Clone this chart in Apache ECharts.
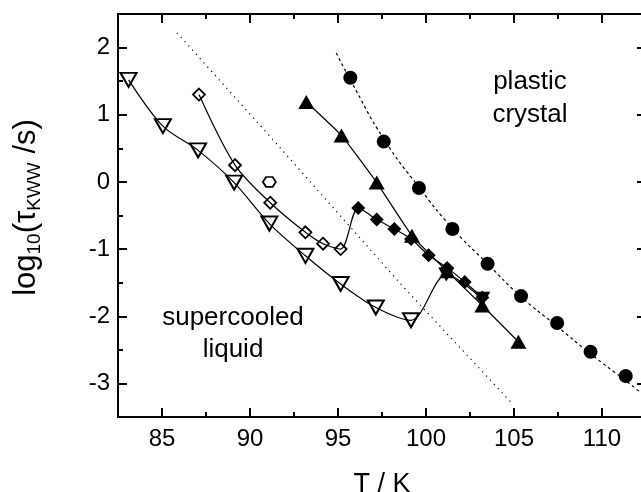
<!DOCTYPE html>
<html>
<head>
<meta charset="utf-8">
<script src="https://cdn.jsdelivr.net/npm/echarts@6/dist/echarts.min.js"></script>
<style>
html,body{margin:0;padding:0;background:#fff;}
#c{width:641px;height:492px;}
</style>
</head>
<body>
<div id="c"></div>
<script>
// ---- data ----
// open down-triangles (supercooled liquid)
const tDownOpen = [83.1, 85.05, 87.05, 89.1, 91.1, 93.15, 95.15, 97.15, 99.15];
const yDownOpen = [1.52, 0.83, 0.47, -0.01, -0.62, -1.10, -1.52, -1.87, -2.06];
// filled down-triangles (plastic crystal)
const tDownFilled = [101.15, 103.2];
const yDownFilled = [-1.38, -1.74];
// open diamonds
const tDiaOpen = [87.1, 89.15, 91.15, 93.15, 94.15, 95.15];
const yDiaOpen = [1.30, 0.25, -0.31, -0.75, -0.92, -1.00];
// filled diamonds
const tDiaFilled = [96.15, 97.2, 98.2, 99.15, 100.15, 101.2, 102.2, 103.2];
const yDiaFilled = [-0.39, -0.56, -0.70, -0.85, -1.09, -1.28, -1.49, -1.72];
// open hexagon
const tHex = [91.1];
const yHex = [0.0];
// filled up-triangles
const tTriFilled = [93.2, 95.2, 97.2, 99.2, 101.2, 103.2, 105.25];
const yTriFilled = [1.19, 0.69, -0.01, -0.80, -1.33, -1.84, -2.38];
// filled circles
const tCirc = [95.7, 97.6, 99.6, 101.5, 103.5, 105.4, 107.45, 109.35, 111.35];
const yCirc = [1.55, 0.60, -0.09, -0.70, -1.22, -1.70, -2.10, -2.53, -2.89];
// dashed fit through circles
const tFitCirc = [94.9, 95.7, 97.6, 99.6, 101.5, 103.5, 105.4, 107.45, 109.35, 111.35, 112.5];
const yFitCirc = [1.92, 1.52, 0.64, -0.08, -0.69, -1.22, -1.71, -2.15, -2.56, -2.96, -3.20];
// dotted fit line
const tFitDot = [85.85, 91.3, 98.7, 104.9];
const yFitDot = [2.22, 0.63, -1.56, -3.30];
// axis ticks
const xMajor = [85, 90, 95, 100, 105, 110];
const xMinor = [82.5, 87.5, 92.5, 97.5, 102.5, 107.5, 112.5];
const yMajor = [-3, -2, -1, 0, 1, 2];
const yMinor = [-3.5, -2.5, -1.5, -0.5, 0.5, 1.5, 2.5];
const xLabel = 'T / K';
const annotLiquid = 'supercooled\nliquid';
const annotCrystal = 'plastic\ncrystal';

const zip = (a, b) => a.map((v, i) => [v, b[i]]);
const FONT = '"Liberation Sans", Arial, Helvetica, sans-serif';
const hexPath = 'path://M-1,0L-0.5,-0.866L0.5,-0.866L1,0L0.5,0.866L-0.5,0.866Z';

const chart = echarts.init(document.getElementById('c'), null, {renderer: 'canvas'});

function xAx(position, values, len, showLine, showLabel) {
  return {
    type: 'value', min: 82.5, max: 112.5, position: position,
    axisLine: {show: showLine, onZero: false, lineStyle: {color: '#000', width: 2}},
    axisTick: {show: true, inside: true, length: len, customValues: values, lineStyle: {color: '#000', width: 2}},
    axisLabel: showLabel ? {show: true, customValues: values, fontSize: 24, color: '#000', fontFamily: FONT, margin: 10} : {show: false},
    splitLine: {show: false}
  };
}
function yAx(position, values, len, showLine, showLabel) {
  return {
    type: 'value', min: -3.5, max: 2.5, position: position,
    axisLine: {show: showLine, onZero: false, lineStyle: {color: '#000', width: 2}},
    axisTick: {show: true, inside: true, length: len, customValues: values, lineStyle: {color: '#000', width: 2}},
    axisLabel: showLabel ? {show: true, customValues: values, fontSize: 24, color: '#000', fontFamily: FONT, margin: 8} : {show: false},
    splitLine: {show: false}
  };
}

const xA0 = xAx('bottom', xMajor, 9, true, true);
xA0.name = xLabel;
xA0.nameLocation = 'middle';
xA0.nameGap = 54;
xA0.nameTextStyle = {fontSize: 27, color: '#000', fontFamily: FONT};

const yA0 = yAx('left', yMajor, 9, true, true);
yA0.name = '{m|log}{s|10}{m|(τ}{s|KWW}{m| /s)}';
yA0.nameLocation = 'middle';
yA0.nameRotate = 90;
yA0.nameGap = 74;
yA0.nameTextStyle = {
  color: '#000', fontFamily: FONT, padding: [0, 0, 0, 16],
  rich: {
    m: {fontSize: 31, fontFamily: FONT, color: '#000', lineHeight: 31, padding: [0, 0, 2, 0], verticalAlign: 'bottom'},
    s: {fontSize: 19, fontFamily: FONT, color: '#000', lineHeight: 19, padding: [14, 0, 0, 0], verticalAlign: 'bottom'}
  }
};

const lineBase = {type: 'line', xAxisIndex: 0, yAxisIndex: 0, showSymbol: false, symbol: 'none', silent: true, animation: false};
const scatBase = {type: 'scatter', xAxisIndex: 0, yAxisIndex: 0, silent: true, animation: false};

chart.setOption({
  backgroundColor: '#fff',
  animation: false,
  grid: {left: 118, top: 14, right: -5, bottom: 75, containLabel: false, outerBoundsMode: 'none'},
  xAxis: [xA0, xAx('bottom', xMinor, 5, false, false), xAx('top', xMajor, 9, true, false), xAx('top', xMinor, 5, false, false)],
  yAxis: [yA0, yAx('left', yMinor, 5, false, false), yAx('right', yMajor, 9, true, false), yAx('right', yMinor, 5, false, false)],
  graphic: [
    {type: 'text', style: {text: annotLiquid, x: 233, y: 302, textAlign: 'center', textVerticalAlign: 'top', font: '26px ' + FONT, lineHeight: 32, fill: '#000'}, z: 10},
    {type: 'text', style: {text: annotCrystal, x: 530, y: 65, textAlign: 'center', textVerticalAlign: 'top', font: '26px ' + FONT, lineHeight: 33, fill: '#000'}, z: 10}
  ],
  series: [
    Object.assign({}, lineBase, {data: zip(tFitDot, yFitDot), lineStyle: {color: '#000', width: 1.2, type: [1.2, 4.5]}}),
    Object.assign({}, lineBase, {data: zip(tFitCirc, yFitCirc), smooth: true, lineStyle: {color: '#000', width: 1.2, type: [3, 3]}}),
    Object.assign({}, lineBase, {data: zip(tDownOpen, yDownOpen).concat(zip(tDownFilled, yDownFilled)), smooth: 0.3, lineStyle: {color: '#000', width: 1.2}}),
    Object.assign({}, lineBase, {data: zip(tDiaOpen, yDiaOpen).concat(zip(tDiaFilled, yDiaFilled)), smooth: 0.3, lineStyle: {color: '#000', width: 1.2}}),
    Object.assign({}, lineBase, {data: zip(tTriFilled, yTriFilled), smooth: 0.15, lineStyle: {color: '#000', width: 1.2}}),
    Object.assign({}, scatBase, {data: zip(tDownOpen, yDownOpen), symbol: 'triangle', symbolRotate: 180, symbolSize: [16, 14], itemStyle: {color: '#fff', borderColor: '#000', borderWidth: 2, opacity: 1}}),
    Object.assign({}, scatBase, {data: zip(tDiaOpen, yDiaOpen), symbol: 'diamond', symbolSize: [12, 12], itemStyle: {color: '#fff', borderColor: '#000', borderWidth: 1.8, opacity: 1}}),
    Object.assign({}, scatBase, {data: zip(tHex, yHex), symbol: hexPath, symbolKeepAspect: true, symbolSize: [13, 11.3], itemStyle: {color: '#fff', borderColor: '#000', borderWidth: 1.8, opacity: 1}}),
    Object.assign({}, scatBase, {data: zip(tDownFilled, yDownFilled), symbol: 'triangle', symbolRotate: 180, symbolSize: [16, 14], itemStyle: {color: '#000', opacity: 1}}),
    Object.assign({}, scatBase, {data: zip(tDiaFilled, yDiaFilled), symbol: 'diamond', symbolSize: [14, 14], itemStyle: {color: '#000', opacity: 1}}),
    Object.assign({}, scatBase, {data: zip(tTriFilled, yTriFilled), symbol: 'triangle', symbolSize: [16, 14], itemStyle: {color: '#000', opacity: 1}}),
    Object.assign({}, scatBase, {data: zip(tCirc, yCirc), symbol: 'circle', symbolSize: 14, itemStyle: {color: '#000', opacity: 1}})
  ]
});
</script>
</body>
</html>
